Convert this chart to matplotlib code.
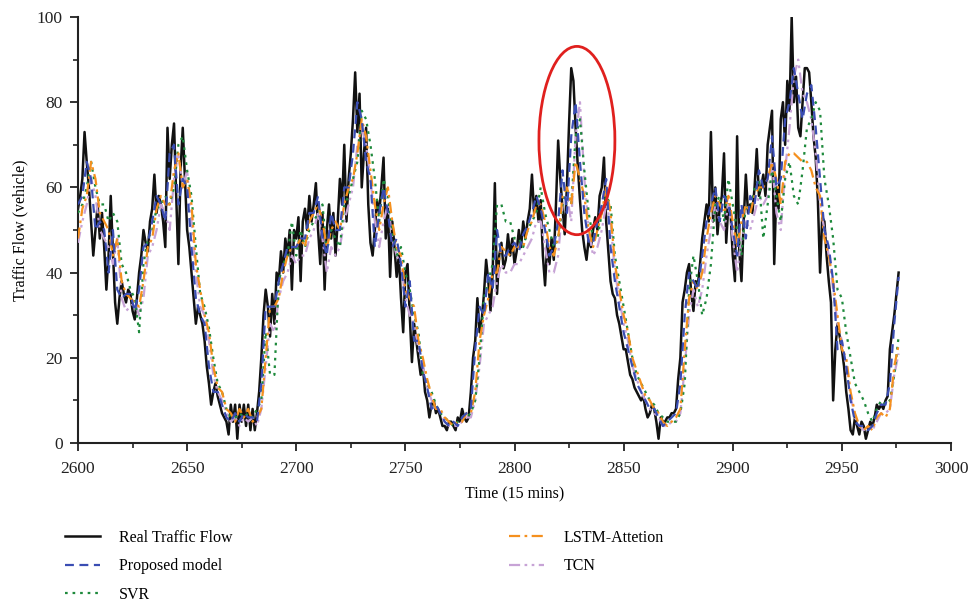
import numpy as np
import matplotlib
matplotlib.use("Agg")
import matplotlib.pyplot as plt
from matplotlib.patches import Ellipse
from matplotlib.lines import Line2D

# ---------------- data ----------------
real_start = 2600
real_flow = [
    55, 58, 62, 73, 66, 60, 52, 44, 50, 56, 48, 54, 46, 36, 44, 58, 45, 33, 28, 34,   # 2600-2619
    38, 35, 33, 36, 35, 31, 29, 34, 40, 44, 50, 47, 45, 52, 55, 63, 54, 58, 56, 52,   # 2620-2639
    46, 74, 62, 70, 75, 58, 42, 64, 74, 62, 50, 46, 40, 34, 28, 32, 30, 28, 24, 18,   # 2640-2659
    14, 9, 12, 14, 11, 9, 7, 6, 5, 2, 9, 5, 9, 1, 9, 5, 9, 4, 9, 3,                   # 2660-2679
    8, 3, 7, 12, 20, 30, 36, 32, 25, 35, 28, 40, 38, 45, 40, 48, 44, 50, 36, 50,      # 2680-2699
    48, 53, 38, 52, 55, 50, 58, 52, 56, 61, 50, 42, 54, 36, 50, 56, 48, 54, 44, 52,   # 2700-2719
    62, 56, 70, 52, 62, 68, 76, 87, 73, 82, 60, 68, 74, 56, 47, 44, 50, 57, 54, 60,   # 2720-2739
    67, 48, 55, 39, 52, 46, 39, 44, 34, 26, 40, 42, 30, 19, 28, 24, 20, 16, 18, 12,   # 2740-2759
    10, 6, 9, 10, 7, 8, 6, 4, 4, 3, 5, 5, 4, 3, 6, 5, 8, 6, 5, 6,                     # 2760-2779
    12, 20, 24, 34, 26, 29, 35, 43, 38, 31, 40, 61, 35, 44, 47, 41, 43, 49, 44, 48,   # 2780-2799
    42, 45, 50, 46, 52, 48, 52, 55, 63, 54, 58, 52, 57, 44, 37, 47, 42, 48, 43, 56,   # 2800-2819
    71, 62, 55, 49, 60, 75, 88, 85, 74, 65, 57, 50, 46, 43, 48, 46, 50, 53, 50, 58,   # 2820-2839
    60, 67, 52, 45, 38, 35, 34, 30, 28, 25, 22, 22, 19, 16, 15, 13, 12, 11, 10, 11,   # 2840-2859
    8, 6, 7, 9, 8, 5, 1, 6, 5, 5, 6, 6, 7, 7, 8, 15, 20, 33, 36, 40,                  # 2860-2879
    42, 35, 31, 38, 37, 42, 48, 52, 56, 52, 73, 52, 60, 49, 55, 58, 68, 47, 56, 54,   # 2880-2899
    44, 38, 72, 45, 38, 52, 63, 54, 56, 54, 60, 69, 58, 60, 63, 58, 70, 74, 78, 42,   # 2900-2919
    60, 55, 76, 80, 70, 85, 78, 100, 80, 86, 74, 72, 80, 88, 88, 87, 80, 72, 67, 57,  # 2920-2939
    40, 53, 52, 44, 38, 33, 10, 22, 28, 25, 22, 18, 12, 8, 3, 2, 6, 4, 2, 5,          # 2940-2959
    4, 1, 3, 5, 4, 6, 9, 8, 9, 8, 10, 11, 22, 26, 30, 35, 40,                         # 2960-2976
]

pred_start = 2600
pred_step = 2
proposed = [
    56, 58, 66, 62, 50, 52, 50, 40, 50, 36, 34, 35, 35, 31, 36, 46, 47, 52, 58, 56,
    52, 68, 70, 56, 62, 60, 46, 34, 30, 28, 18, 12, 12, 9, 6, 5, 7, 5, 7, 6,
    6, 5, 14, 32, 32, 32, 38, 42, 46, 46, 46, 48, 48, 54, 54, 58, 48, 44, 54, 50,
    50, 60, 60, 68, 80, 76, 66, 62, 46, 54, 60, 54, 46, 48, 42, 32, 38, 24, 24, 17,
    13, 8, 9, 7, 5, 4, 5, 4, 6, 7, 8, 22, 32, 30, 40, 36, 50, 44, 44, 46,
    47, 45, 49, 51, 54, 58, 55, 50, 44, 46, 52, 64, 54, 72, 80, 66, 54, 47, 47, 52,
    56, 62, 46, 38, 32, 26, 22, 18, 14, 12, 10, 8, 8, 6, 4, 5, 6, 7, 14, 30,
    40, 38, 36, 44, 52, 56, 60, 52, 58, 56, 50, 44, 56, 48, 58, 56, 64, 60, 62, 72,
    60, 62, 76, 80, 88, 82, 76, 82, 84, 74, 62, 50, 46, 38, 22, 24, 18, 10, 5, 4,
    4, 3, 4, 7, 9, 9, 14, 28, 39,
]
svr = [
    54, 56, 60, 66, 60, 56, 56, 52, 54, 52, 42, 40, 36, 34, 26, 42, 48, 50, 55, 56,
    58, 56, 60, 70, 72, 64, 58, 46, 35, 32, 27, 20, 14, 12, 8, 6, 6, 7, 6, 7,
    6, 8, 10, 26, 16, 16, 38, 42, 44, 52, 44, 50, 46, 50, 52, 54, 56, 45, 50, 48,
    46, 56, 58, 62, 66, 78, 76, 70, 62, 52, 62, 58, 50, 44, 46, 40, 36, 30, 26, 16,
    14, 12, 9, 7, 6, 5, 4, 5, 6, 6, 7, 10, 20, 34, 38, 42, 56, 56, 52, 52,
    48, 48, 46, 50, 52, 54, 60, 54, 50, 46, 48, 56, 60, 56, 72, 76, 64, 54, 48, 48,
    54, 58, 56, 44, 38, 32, 26, 20, 16, 14, 12, 10, 9, 7, 6, 5, 5, 5, 7, 14,
    36, 44, 38, 30, 34, 42, 56, 58, 52, 62, 56, 50, 44, 56, 54, 60, 62, 48, 56, 64,
    58, 52, 62, 66, 58, 56, 64, 74, 76, 80, 78, 62, 56, 48, 36, 34, 26, 20, 14, 12,
    10, 7, 5, 8, 10, 9, 10, 16, 25,
]
lstm_att = [
    48, 55, 58, 66, 62, 54, 52, 50, 44, 48, 38, 35, 34, 33, 32, 38, 46, 48, 55, 58,
    56, 56, 64, 68, 60, 62, 56, 42, 36, 30, 26, 18, 13, 12, 8, 7, 5, 8, 6, 8,
    5, 6, 8, 20, 32, 32, 34, 40, 44, 46, 46, 48, 46, 52, 54, 56, 52, 46, 50, 52,
    50, 56, 60, 62, 68, 76, 72, 64, 56, 50, 56, 60, 52, 46, 44, 36, 34, 32, 24, 20,
    15, 11, 8, 8, 6, 5, 4, 5, 5, 7, 7, 12, 24, 30, 34, 40, 40, 46, 45, 44,
    46, 46, 46, 50, 52, 56, 56, 52, 46, 44, 48, 58, 60, 56, 66, 62, 58, 50, 46, 50,
    54, 60, 54, 42, 36, 30, 26, 20, 17, 14, 11, 10, 8, 7, 5, 4, 5, 6, 8, 22,
    34, 38, 36, 40, 48, 54, 58, 56, 54, 58, 52, 46, 52, 56, 54, 58, 60, 60, 62, 66,
    62, 56, 66, 68, 68, 67, 66, 66, 64, 60, 58, 48, 44, 38, 30, 22, 20, 12, 7, 4,
    3, 4, 3, 6, 7, 6, 8, 18, 23,
]
tcn = [
    47, 52, 56, 62, 58, 50, 48, 46, 42, 48, 34, 31, 32, 33, 30, 34, 44, 46, 50, 56,
    54, 50, 62, 68, 60, 64, 52, 40, 32, 30, 24, 16, 12, 10, 7, 5, 6, 4, 6, 5,
    6, 4, 8, 18, 28, 26, 34, 38, 40, 44, 42, 44, 44, 48, 50, 54, 48, 40, 46, 44,
    46, 52, 56, 60, 70, 74, 70, 62, 52, 46, 52, 56, 48, 44, 42, 34, 30, 28, 22, 18,
    13, 10, 8, 7, 5, 4, 4, 4, 5, 6, 6, 10, 18, 28, 30, 32, 38, 42, 40, 40,
    42, 42, 44, 46, 48, 52, 52, 46, 40, 40, 44, 56, 58, 52, 72, 80, 62, 50, 44, 46,
    50, 56, 52, 40, 34, 28, 24, 18, 15, 12, 10, 8, 7, 6, 4, 4, 5, 5, 7, 18,
    30, 36, 32, 36, 44, 50, 56, 52, 50, 56, 48, 40, 48, 52, 50, 54, 58, 56, 58, 66,
    54, 50, 64, 74, 86, 90, 82, 80, 76, 68, 56, 50, 44, 36, 28, 24, 18, 11, 6, 4,
    3, 4, 3, 5, 7, 7, 8, 16, 21,
]

series_labels = ["Real Traffic Flow", "Proposed model", "SVR", "LSTM-Attetion", "TCN"]
x_ticks = [2600, 2650, 2700, 2750, 2800, 2850, 2900, 2950, 3000]
y_ticks = [0, 20, 40, 60, 80, 100]

t_real = real_start + np.arange(len(real_flow))
t_pred = pred_start + pred_step * np.arange(len(proposed))

# ---------------- figure ----------------
plt.rcParams['font.family'] = ['Liberation Serif', 'DejaVu Serif']
fig = plt.figure(figsize=(9.68, 6.04), dpi=100)
ax = fig.add_axes([78/968, 161/604, 873/968, 426/604])

c_real = "#111111"
c_prop = "#3a4db3"
c_svr = "#1e8a3c"
c_lstm = "#f5901e"
c_tcn = "#c7a3d6"

ax.plot(t_real, real_flow, color=c_real, lw=1.8, zorder=2)
ax.plot(t_pred, tcn, color=c_tcn, lw=1.6, dashes=[5, 2, 1.2, 2, 1.2, 2], zorder=3)
ax.plot(t_pred, svr, color=c_svr, lw=1.6, dashes=[1.2, 2.2], zorder=4)
ax.plot(t_pred, lstm_att, color=c_lstm, lw=1.6, dashes=[5, 2, 1.2, 2], zorder=5)
ax.plot(t_pred, proposed, color=c_prop, lw=1.6, dashes=[4, 2.5], zorder=6)

ell = Ellipse((2828.6, 71.0), 34.8, 44.2, fill=False, edgecolor="#e0201e", lw=2.0, zorder=7)
ax.add_patch(ell)

ax.set_xlim(2600, 3000)
ax.set_ylim(0, 100)
ax.set_xticks(x_ticks)
ax.set_yticks(y_ticks)
ax.set_xticks(np.arange(2625, 3000, 50), minor=True)
ax.set_yticks(np.arange(10, 100, 20), minor=True)
for s in ["top", "right"]:
    ax.spines[s].set_visible(False)
for s in ["left", "bottom"]:
    ax.spines[s].set_linewidth(1.5)
    ax.spines[s].set_color("#222222")
ax.tick_params(which="major", direction="out", length=6, width=1.3, labelsize=12.5,
               colors="#222222", pad=5)
ax.tick_params(axis="x", which="major", pad=7)
ax.tick_params(which="minor", direction="out", length=3.5, width=1.2, colors="#222222")
ax.set_xlabel("Time (15 mins)", fontsize=11.5, labelpad=7)
ax.set_ylabel("Traffic Flow (vehicle)", fontsize=11.5, labelpad=6)

# legend
h_real = Line2D([], [], color=c_real, lw=1.8)
h_prop = Line2D([], [], color=c_prop, lw=1.6, dashes=[4, 2.5])
h_svr = Line2D([], [], color=c_svr, lw=1.6, dashes=[1.2, 2.2])
h_lstm = Line2D([], [], color=c_lstm, lw=1.6, dashes=[5, 2, 1.2, 2])
h_tcn = Line2D([], [], color=c_tcn, lw=1.6, dashes=[5, 2, 1.2, 2, 1.2, 2])

leg_kw = dict(frameon=False, fontsize=11.5, handlelength=2.2, handletextpad=1.2,
              labelspacing=0.78, borderaxespad=0, borderpad=0)
leg1 = fig.legend([h_real, h_prop, h_svr], series_labels[:3], loc="upper left",
                  bbox_to_anchor=(65/968, 1 - 530/604), **leg_kw)
leg2 = fig.legend([h_lstm, h_tcn], series_labels[3:], loc="upper left",
                  bbox_to_anchor=(509/968, 1 - 530/604), **leg_kw)

fig.savefig("out.png", dpi=100)
